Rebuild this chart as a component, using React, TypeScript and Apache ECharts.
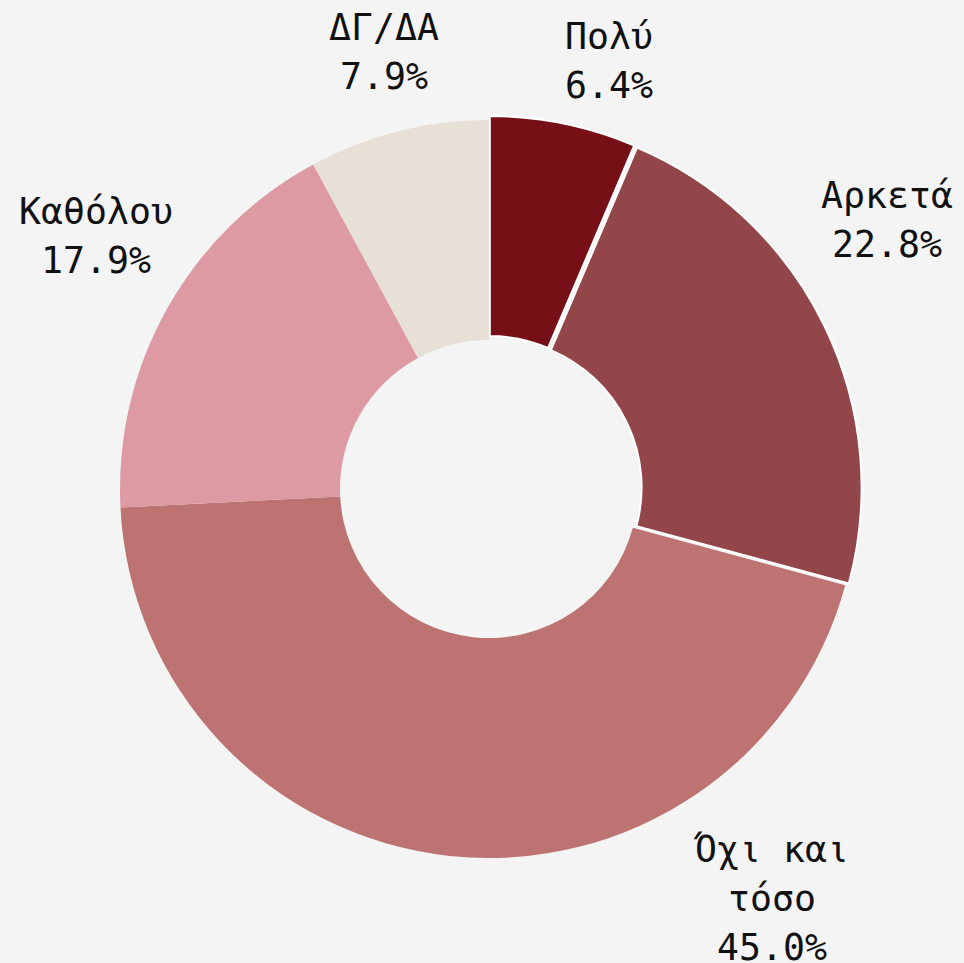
import React, { useEffect, useRef } from "react";
import * as echarts from "echarts";

const categories = ["Πολύ", "Αρκετά", "Όχι και τόσο", "Καθόλου", "ΔΓ/ΔΑ"];
const labelTexts = ["Πολύ", "Αρκετά", "Όχι και\nτόσο", "Καθόλου", "ΔΓ/ΔΑ"];
const values = [6.4, 22.8, 45.0, 17.9, 7.9];
const pulled = [true, true, false, false, false];
const pullOffsets = [4, 6, 0, 0, 0];

const colors = ["#761016", "#93464a", "#bc7371", "#dd9aa3", "#e6e0d6"];
// label block centres (pixels), placed as in the reference
const labelCentres: [number, number][] = [
  [609, 61],
  [887, 220],
  [772, 898],
  [96, 236],
  [384, 52],
];

export default function App() {
  const ref = useRef<HTMLDivElement>(null);
  useEffect(() => {
    document.body.style.margin = "0";
    const chart = echarts.init(ref.current!, null, { renderer: "svg" });
    const common = {
      type: "pie",
      center: [489, 489],
      radius: [149, 369],
      startAngle: 90,
      clockwise: true,
      avoidLabelOverlap: false,
      emphasis: { disabled: true },
    };
    chart.setOption({
      animation: false,
      backgroundColor: "#f4f4f4",
      series: [
        {
          ...common,
          selectedMode: "multiple",
          selectedOffset: 4,
          select: { itemStyle: { borderColor: "#ffffff", borderWidth: 2 }, label: { show: false } },
          label: { show: false },
          labelLine: { show: false },
          data: categories.map((name, i) => ({
            name,
            value: values[i],
            selected: pulled[i],
            selectedOffset: pullOffsets[i],
            itemStyle: { color: colors[i] },
          })),
        },
        {
          ...common,
          silent: true,
          label: {
            show: true,
            position: "outside",
            color: "#111111",
            fontFamily: "DejaVu Sans Mono",
            fontSize: 36.5,
            lineHeight: 49,
            align: "center",
            formatter: (p: any) =>
              labelTexts[p.dataIndex] + "\n" + values[p.dataIndex].toFixed(1) + "%",
          },
          labelLine: { show: false },
          labelLayout: (p: any) => ({
            x: labelCentres[p.dataIndex][0],
            y: labelCentres[p.dataIndex][1],
            align: "center",
            verticalAlign: "middle",
          }),
          itemStyle: { color: "rgba(0,0,0,0)" },
          data: categories.map((name, i) => ({ name, value: values[i] })),
        },
      ],
    });
    return () => chart.dispose();
  }, []);
  return <div ref={ref} style={{ width: 964, height: 963 }} />;
}
